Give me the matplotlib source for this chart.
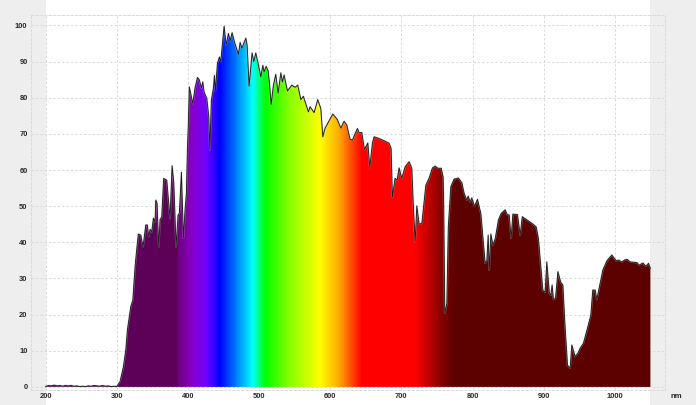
import matplotlib.pyplot as plt
import numpy as np
from matplotlib.colors import LinearSegmentedColormap
from matplotlib.patches import Rectangle

plt.rcParams['font.family'] = ['Liberation Sans', 'DejaVu Sans']

# spectrum
wl_noise = [200, 204, 208, 212, 216, 220, 224, 228, 232, 236, 240, 244, 248, 252, 256,
            260, 264, 268, 272, 276, 280, 284, 288, 292, 296, 300]
val_noise = [0.1, 0.4, 0.3, 0.5, 0.3, 0.4, 0.2, 0.4, 0.3, 0.4, 0.2, 0.3, 0.1, 0.2, 0.1,
             0.3, 0.2, 0.4, 0.3, 0.2, 0.4, 0.2, 0.3, 0.1, 0.2, 0.1]

wl_uv = [304.7, 309.4, 312.7, 315, 319.7, 322.6, 325.8, 328, 330.4, 333.8, 337, 340.8,
         343, 345, 346.9, 349.2, 351.5, 353.8, 354.9, 356.7, 359, 360.9, 363.2, 366,
         370.3, 374.9, 377.8, 380.2, 383.4, 386.2, 388, 390.9, 393.7, 396, 397.9, 399.3]
val_uv = [1.5, 5.6, 10.2, 15.8, 22.2, 24, 33.3, 37.9, 42.3, 42, 38.8, 44.8,
          44.8, 41.6, 43.6, 42.9, 46.7, 45.7, 51.7, 50.8, 38.8, 46.3, 47, 57.7,
          57.2, 46.6, 61.2, 56.4, 38.8, 47.6, 48, 59.4, 41.2, 49, 53.6, 65.5]

wl_vis = [400.5, 402, 406.9, 410, 413.4, 416, 419, 420.9, 422.8, 426.6, 429.4, 430.8,
          433, 435.9, 437.3, 438.7, 441.5, 444.3, 446.2, 448, 450.9, 453.7, 457, 459.3,
          462.1, 465.4, 471, 473.4, 475.8, 481.4, 483.2, 486, 490.2, 492.6, 495.4, 497.7,
          502.5, 505.3, 507, 510, 512.7, 514.6, 517, 520.2, 523.5, 526.8, 530.6, 532.8,
          535.2, 539.9, 546, 550.7, 554.4, 558.7, 562.3, 569.4, 571.7, 577.4, 582.5, 586.8,
          589.6, 592.8, 597.5, 603.6, 610, 614.9, 619.5, 623.3, 627.9, 631.3, 635, 638.3,
          640.6, 644.4, 648.1, 652.9, 655.6, 659.3, 661.7, 667.8, 677.2, 682.8, 685.6, 687.4,
          691.2, 694, 696.8, 700.6, 705.2, 710.9, 714.7, 716.9, 719.4, 721.7, 725, 728.8,
          734.4, 739, 743.7, 747.5, 751.3, 756, 758.7]
val_vis = [72, 83, 78.4, 82.7, 85.6, 85, 82.7, 84.4, 81.6, 79.8, 74.7, 65.5,
           79.3, 82.7, 86.2, 82, 89.5, 91.3, 90, 93.7, 99.8, 94.6, 97.8, 95.7,
           98, 95.5, 92, 95.3, 93.7, 96.5, 94.6, 83.2, 92.4, 90, 92.4, 90.4,
           85.8, 89, 87.2, 88.7, 87.5, 84, 78.2, 83.5, 86.5, 81.3, 86.9, 84.4,
           86.3, 81.9, 83.5, 82.9, 83.5, 79.5, 80.4, 76.1, 77.5, 75.9, 79.5, 77,
           69.2, 71.6, 73.3, 75.5, 74, 71.6, 73.5, 72.5, 68.5, 68.3, 70.1, 71.5,
           70.3, 70.4, 65.7, 67.5, 60.7, 67.4, 69.2, 68.8, 68, 67.4, 66, 52.6,
           57.7, 57.2, 60.6, 57.7, 60.9, 62.3, 60.5, 49.8, 40.2, 50.1, 45, 45.3,
           55.8, 57.8, 60.6, 61.1, 60.5, 60.5, 58.1]

wl_ir = [759.5, 761, 763.9, 766, 769.5, 774.1, 780.2, 785, 788.2, 792, 793.9, 796.7,
         799, 802.7, 807, 811.7, 817.8, 820.2, 822, 823.5, 825.8, 828.7, 832, 836.4,
         840.2, 845.8, 849.1, 851.5, 854.3, 856.7, 863.2, 867, 869.9, 876.5, 883.3, 889.4,
         892.6, 898.8, 902, 904.4, 908, 910, 911.9, 913.7, 916.6, 920, 924.1, 927,
         929.8, 933.5, 937.2, 939.6, 944.2, 948, 951.2, 955.9, 961.5, 966.3, 969, 972.4,
         974.7, 979.4, 983.1, 988.8, 995.8, 1001.9, 1005, 1009.9, 1013.5, 1017.3, 1021.5, 1031,
         1034.2, 1039.4, 1043.7, 1047.3, 1050]
val_ir = [50.9, 20.4, 23.1, 44.3, 55.4, 57.5, 57.8, 56.5, 53.6, 51.7, 52.8, 51.2,
          52.3, 50, 51.9, 48, 34.2, 35, 42, 32.3, 42.3, 39.3, 41.1, 46.2,
          48, 49, 47.6, 47.6, 41.1, 47.8, 47.7, 42, 47.1, 46.2, 45.3, 44.3,
          41.1, 26.8, 26.2, 34.6, 25.9, 25.4, 28.2, 24.2, 24.5, 31.9, 28.9, 28.2,
          17.6, 6, 5.2, 11.6, 8.4, 9.3, 10.7, 12.1, 16.2, 19.9, 26.8, 26.8,
          24.2, 28.7, 32.3, 34.9, 36.5, 34.9, 35.1, 34.6, 35.1, 35.3, 34.6, 34.4,
          33.7, 34.3, 33.4, 34.2, 32.8]

wl = np.array(wl_noise + wl_uv + wl_vis + wl_ir)
val = np.array(val_noise + val_uv + val_vis + val_ir)

# colour of the fill by wavelength
stop_wl = [200, 384.9, 385, 395, 405, 425, 444, 465, 490, 508, 540, 585, 610, 644, 718, 735, 758, 775, 1050]
stop_col = ['#5c0058', '#5c0058', '#6c0080', '#7a00a0', '#8800c8', '#7000ff', '#0000ff', '#0070ff',
            '#00ffff', '#00ff00', '#80ff00', '#ffff00', '#ffb000', '#ff0000', '#ff0000',
            '#c80000', '#800000', '#5c0000', '#5c0000']

x_ticks = [200, 300, 400, 500, 600, 700, 800, 900, 1000]
y_ticks = [0, 10, 20, 30, 40, 50, 60, 70, 80, 90, 100]

W, H = 696, 405
fig = plt.figure(figsize=(W / 100, H / 100), dpi=100)
ax = fig.add_axes([31 / W, 1 - 390 / H, (665 - 31) / W, (390 - 15) / H])
ax.patch.set_visible(False)

# grey side bands of the window
band = '#eeeeee'
fig.add_artist(Rectangle((0, 0), 46 / W, 1, transform=fig.transFigure, color=band, lw=0, zorder=-1))
fig.add_artist(Rectangle((650 / W, 0), 46 / W, 1, transform=fig.transFigure, color=band, lw=0, zorder=-1))

pos = [(w - stop_wl[0]) / (stop_wl[-1] - stop_wl[0]) for w in stop_wl]
cmap = LinearSegmentedColormap.from_list('spectrum', list(zip(pos, stop_col)), N=850)
grad = np.linspace(0, 1, 850).reshape(1, -1)
img = ax.imshow(grad, cmap=cmap, extent=(stop_wl[0], stop_wl[-1], 0, 100), aspect='auto', zorder=2,
                interpolation='nearest')
ax.set_xlim(179.5, 1070.5)
ax.set_ylim(-0.85, 102.9)
poly = ax.fill_between(wl, 0, val, color='none', lw=0)
img.set_clip_path(poly.get_paths()[0], transform=ax.transData)

ax.plot(wl, val, color='#b8b8b8', lw=1.3, alpha=.5, zorder=2.5)
ax.plot(wl, val, color='#1c1c1c', lw=0.65, zorder=3)

ax.set_xticks(x_ticks)
ax.set_yticks(y_ticks)
ax.grid(True, ls='--', lw=.7, c='#dadada', dashes=(2.5, 2))
ax.set_axisbelow(True)
for s in ax.spines.values():
    s.set_linestyle((0, (2.5, 2)))
    s.set_linewidth(.7)
    s.set_color('#dadada')

ax.tick_params(length=0, labelsize=5.4, labelcolor='#2a2a2a', pad=2.5)
labels = ax.get_xticklabels() + ax.get_yticklabels()
[label.set_fontweight('bold') for label in labels]

fig.text(676.5 / W, 1 - 396.5 / H, 'nm', fontsize=5.6, fontweight='bold', color='#2a2a2a',
         ha='center', va='center')

fig.savefig('out.png', dpi=100)
